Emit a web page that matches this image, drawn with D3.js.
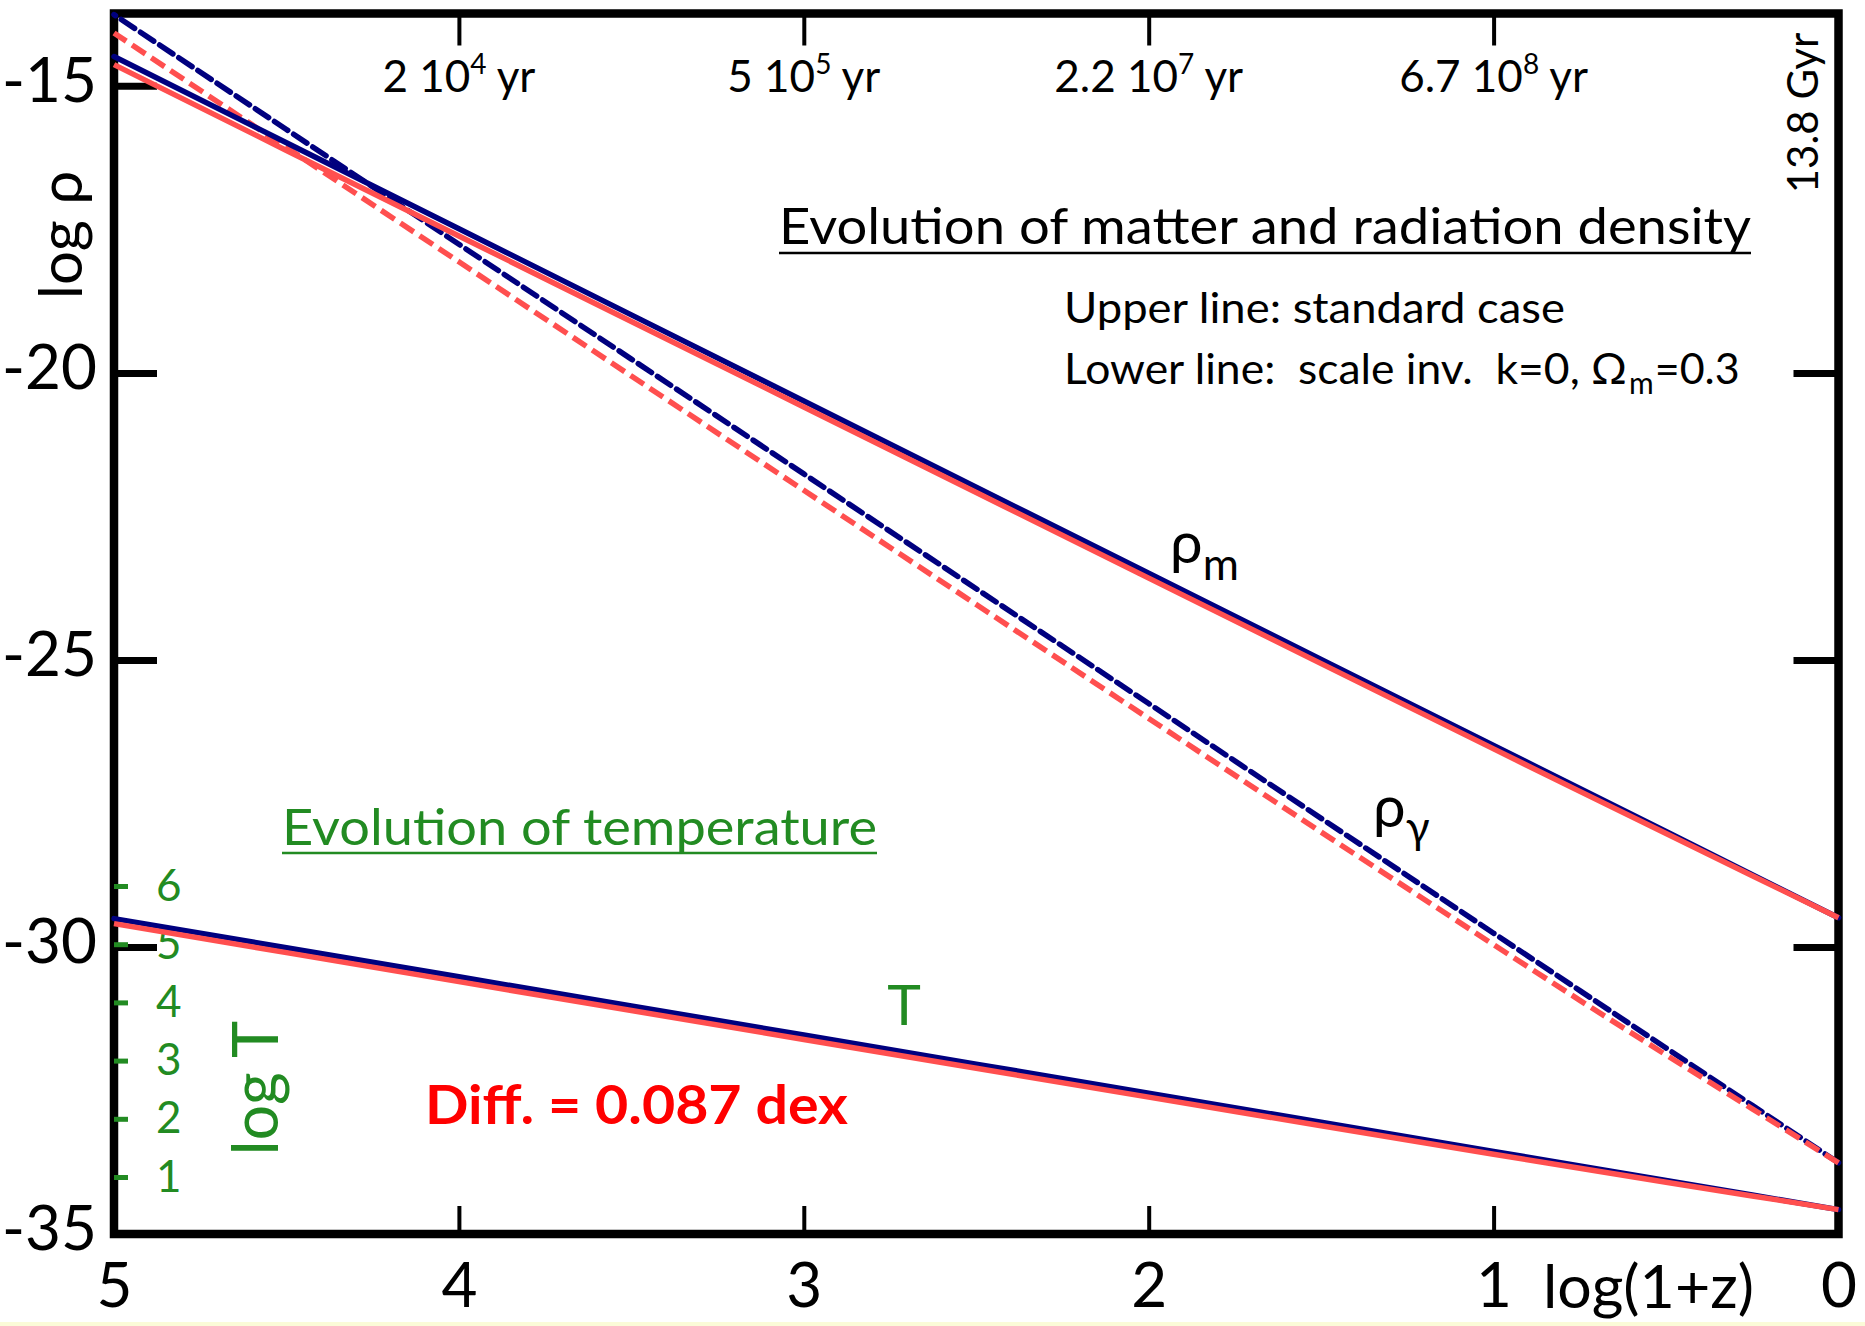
<!DOCTYPE html>
<html><head><meta charset="utf-8">
<script src="https://cdn.jsdelivr.net/npm/d3@7"></script>
<style>
body{margin:0;background:#fff;}
svg{display:block;font-family:Lato,"Open Sans",sans-serif;}
text{white-space:pre;}
</style></head><body>
<svg id="c" width="1865" height="1326"></svg>
<script>
// ---- data ----
const logZ = [0, 0.25, 0.5, 0.75, 1, 1.5, 2, 2.5, 3, 3.5, 4, 4.5, 5];
// standard case (blue)
const rhoMStd  = [-29.49, -28.74, -27.99, -27.24, -26.49, -24.99, -23.49, -21.99, -20.49, -18.99, -17.49, -15.99, -14.49];
const rhoGStd  = [-33.76, -32.76, -31.76, -30.76, -29.76, -27.76, -25.76, -23.76, -21.76, -19.76, -17.76, -15.76, -13.76];
const logTStd  = [0.44, 0.69, 0.94, 1.19, 1.44, 1.94, 2.44, 2.94, 3.44, 3.94, 4.44, 4.94, 5.44];
// scale invariant k=0, Om=0.3 (red)
const rhoMSiv  = [-29.49, -28.76, -28.025, -27.29, -26.55, -25.065, -23.575, -22.085, -20.595, -19.105, -17.615, -16.125, -14.63];
const rhoGSiv  = [-33.76, -32.82, -31.88, -30.93, -29.96, -28.0, -26.02, -24.035, -22.045, -20.055, -18.065, -16.075, -14.08];
const logTSiv  = [0.44, 0.675, 0.91, 1.15, 1.39, 1.88, 2.373, 2.868, 3.364, 3.86, 4.357, 4.855, 5.353];
// ticks
const yTicks = [-15, -20, -25, -30, -35];
const yTicksRight = [-20, -25, -30];
const xTicks = [5, 4, 3, 2, 1, 0];
const topTicks = [4, 3, 2, 1];
const topMant = ["2", "5", "2.2", "6.7"];
const topExp = ["4", "5", "7", "8"];
const tTicks = [1, 2, 3, 4, 5, 6];

// ---- layout ----
const L = 114, R = 1838.5, T = 13.5, B = 1234;
const x = d3.scaleLinear().domain([5, 0]).range([L, R]);
const y = d3.scaleLinear().domain([-35, -13.74]).range([B, T]);
const yT = d3.scaleLinear().domain([1, 6]).range([1177, 886]);
const svg = d3.select("#c");
const NAVY = "#00007f", RED = "#ff4f4f", GREEN = "#228b22";

svg.append("rect").attr("x", 0).attr("y", 1322).attr("width", 1865).attr("height", 4).attr("fill", "#fbfbd8");

// frame
svg.append("rect").attr("x", L).attr("y", T).attr("width", R - L).attr("height", B - T)
  .attr("fill", "none").attr("stroke", "#000").attr("stroke-width", 8.5);

function styleAxis(g, w, col, fs) {
  g.select(".domain").remove();
  g.selectAll(".tick line").attr("stroke", col).attr("stroke-width", w);
  g.selectAll(".tick text").attr("fill", col).attr("font-size", fs).attr("font-family", "Lato");
}
svg.append("g").attr("transform", `translate(${L},0)`)
  .call(d3.axisLeft(y).tickValues(yTicks).tickSize(-43).tickPadding(17).tickFormat(d => String(d)))
  .call(g => styleAxis(g, 7, "#000", 62))
  .selectAll(".tick text").attr("dy", "0.25em");
svg.append("g").attr("transform", `translate(${R},0)`)
  .call(d3.axisRight(y).tickValues(yTicksRight).tickSize(-45).tickFormat(""))
  .call(g => styleAxis(g, 7, "#000", 62));
svg.append("g").attr("transform", `translate(0,${B})`)
  .call(d3.axisBottom(x).tickValues(xTicks).tickSize(-28).tickPadding(29).tickFormat(d => String(d)))
  .call(g => styleAxis(g, 4, "#000", 62));
svg.append("g").attr("transform", `translate(0,${T})`)
  .call(d3.axisTop(x).tickValues(topTicks).tickSize(-32).tickFormat(""))
  .call(g => styleAxis(g, 4, "#000", 44));
// top labels with superscripts
topTicks.forEach((v, i) => {
  const t = svg.append("text").attr("x", x(v)).attr("y", 92).attr("text-anchor", "middle")
    .attr("font-size", 44).attr("fill", "#000");
  t.append("tspan").text(topMant[i] + " 10");
  t.append("tspan").attr("font-size", 28).attr("dy", -18).text(topExp[i]);
  t.append("tspan").attr("dy", 18).text(" yr");
});
// green log T axis
svg.append("g").attr("transform", `translate(${L},0)`)
  .call(d3.axisRight(yT).tickValues(tTicks).tickSize(14).tickPadding(28).tickFormat(d => String(d)))
  .call(g => styleAxis(g, 5, GREEN, 44));

// ---- lines ----
const line = d3.line().x(d => x(d[0]));
function draw(vals, scale, col, dash) {
  svg.append("path").datum(logZ.map((v, i) => [v, vals[i]]))
    .attr("d", line.y(d => scale(d[1])))
    .attr("fill", "none").attr("stroke", col).attr("stroke-width", dash ? 5.5 : 5.5)
    .attr("stroke-dasharray", dash || null)
    .attr("stroke-linecap", col === NAVY ? "round" : "butt");
}
draw(rhoGStd, y, NAVY, "16,7");
draw(rhoGSiv, y, RED, "16,7");
draw(rhoMStd, y, NAVY);
draw(rhoMSiv, y, RED);
draw(logTStd, yT, NAVY);
draw(logTSiv, yT, RED);

// ---- texts ----
svg.append("text").attr("transform", "translate(82,235) rotate(-90)").attr("text-anchor", "middle")
  .attr("font-size", 60).attr("fill", "#000").text("log ρ");
svg.append("text").attr("x", 1754).attr("y", 1308).attr("text-anchor", "end")
  .attr("font-size", 60).attr("fill", "#000").attr("textLength", 211).attr("lengthAdjust", "spacingAndGlyphs").text("log(1+z)");
svg.append("text").attr("transform", "translate(1818,113) rotate(-90)").attr("text-anchor", "middle")
  .attr("font-size", 42).attr("fill", "#000").text("13.8 Gyr");

svg.append("text").attr("x", 779).attr("y", 244).attr("font-size", 50).attr("fill", "#000")
  .attr("textLength", 972).attr("lengthAdjust", "spacingAndGlyphs").text("Evolution of matter and radiation density");
svg.append("line").attr("x1", 779).attr("x2", 1751).attr("y1", 253).attr("y2", 253).attr("stroke", "#000").attr("stroke-width", 2.5);

svg.append("text").attr("x", 1064).attr("y", 323).attr("font-size", 43).attr("fill", "#000")
  .attr("textLength", 501).attr("lengthAdjust", "spacingAndGlyphs").text("Upper line: standard case");
const low = svg.append("text").attr("x", 1064).attr("y", 384).attr("font-size", 43).attr("fill", "#000");
low.append("tspan").attr("textLength", 563).attr("lengthAdjust", "spacingAndGlyphs").text("Lower line:  scale inv.  k=0, Ω");
low.append("tspan").attr("font-size", 30).attr("dy", 10).attr("dx", 2).text("m");
low.append("tspan").attr("dy", -10).attr("dx", 1).text("=0.3");

const rm = svg.append("text").attr("x", 1170).attr("y", 563).attr("font-size", 58).attr("fill", "#000");
rm.append("tspan").text("ρ");
rm.append("tspan").attr("font-size", 44).attr("dy", 17).text("m");
const rg = svg.append("text").attr("x", 1373).attr("y", 827).attr("font-size", 58).attr("fill", "#000");
rg.append("tspan").text("ρ");
rg.append("tspan").attr("font-size", 44).attr("dy", 16).text("γ");

svg.append("text").attr("x", 904).attr("y", 1025).attr("text-anchor", "middle").attr("font-size", 57)
  .attr("fill", GREEN).text("T");
svg.append("text").attr("x", 282).attr("y", 845).attr("font-size", 50).attr("fill", GREEN)
  .attr("textLength", 595).attr("lengthAdjust", "spacingAndGlyphs").text("Evolution of temperature");
svg.append("line").attr("x1", 282).attr("x2", 877).attr("y1", 853).attr("y2", 853).attr("stroke", GREEN).attr("stroke-width", 2.5);
svg.append("text").attr("transform", "translate(278,1088) rotate(-90)").attr("text-anchor", "middle")
  .attr("font-size", 63).attr("fill", GREEN).text("log T");

svg.append("text").attr("x", 425).attr("y", 1124).attr("font-size", 54).attr("font-weight", "bold").attr("fill", "#ff0000")
  .attr("textLength", 423).attr("lengthAdjust", "spacingAndGlyphs").text("Diff. = 0.087 dex");
</script>
</body></html>
